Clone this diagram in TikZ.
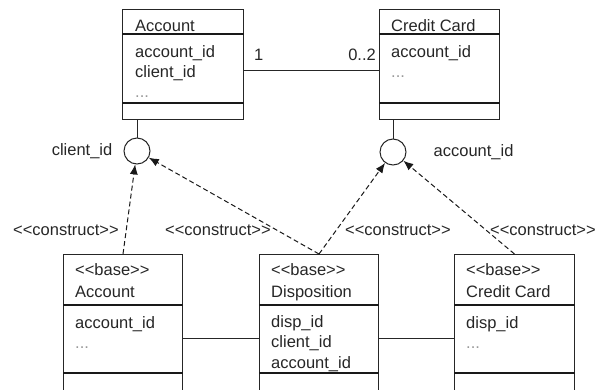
\documentclass[tikz,border=0pt]{standalone}
\usepackage{fontspec}
\setmainfont{Liberation Sans}[Ligatures=TeXOff]
\usetikzlibrary{arrows.meta,positioning,calc}

\tikzset{
  classbox/.style={draw=black!85, line width=1pt, inner sep=0pt, anchor=north west},
  sep/.style={line width=2pt, black!90},
  txt/.style={inner sep=0pt, anchor=base west, font=\fontsize{16.5}{20}\selectfont, text=black!85},
  dots/.style={txt, text=black!40},
  iface/.style={draw=black!85, line width=1pt, circle, minimum size=26pt, inner sep=0pt},
  construct/.style={-{Latex[length=10pt,width=8pt]}, dash pattern=on 5pt off 3pt, line width=1pt, black!90},
  link/.style={line width=1pt, black!85},
}

\begin{document}
\begin{tikzpicture}[x=1pt, y=-1pt]
  \useasboundingbox (0,0) rectangle (596,389);
  \clip (0,0) rectangle (596,389);

  % target classes
  \node[classbox, minimum width=121pt, minimum height=110pt] (acc) at (122,9) {};
  \draw[sep] ($(acc.north west)+(0,25)$) -- ($(acc.north east)+(0,25)$);
  \draw[sep] ($(acc.north west)+(0,94)$) -- ($(acc.north east)+(0,94)$);
  \node[txt] (acc-name) at ($(acc.north west)+(13,22)$) {Account};
  \node[txt] (acc-a1) at ($(acc.north west)+(13,48)$) {account\_id};
  \node[txt] (acc-a2) at ($(acc.north west)+(13,68)$) {client\_id};
  \node[dots] (acc-a3) at ($(acc.north west)+(13,88)$) {...};

  \node[classbox, minimum width=120pt, minimum height=110pt] (card) at (379,9) {};
  \draw[sep] ($(card.north west)+(0,25)$) -- ($(card.north east)+(0,25)$);
  \draw[sep] ($(card.north west)+(0,94)$) -- ($(card.north east)+(0,94)$);
  \node[txt] (card-name) at ($(card.north west)+(12,22)$) {Credit Card};
  \node[txt] (card-a1) at ($(card.north west)+(12,48)$) {account\_id};
  \node[dots] (card-a2) at ($(card.north west)+(12,68)$) {...};

  % association
  \draw[link] ($(acc.north east)+(0,61)$) -- ($(card.north west)+(0,61)$);
  \node[txt] (mult-a) at ($(acc.north east)+(10,51)$) {1};
  \node[txt, anchor=base east] (mult-b) at ($(card.north west)+(-3,51)$) {0..2};

  % provided interfaces
  \node[iface] (cid) at (137,151) {};
  \node[iface] (aid) at (393,152) {};
  \draw[link] (cid) -- (cid |- acc.south);
  \draw[link] (aid) -- (aid |- card.south);
  \node[txt, anchor=east, left=11pt of cid] (cid-lbl) {client\_id};
  \node[txt, anchor=west, right=27pt of aid] (aid-lbl) {account\_id};

  % base classes
  \node[classbox, minimum width=119pt, minimum height=160pt] (bacc) at (63,254) {};
  \node[classbox, minimum width=119pt, minimum height=160pt] (disp) at (259,254) {};
  \node[classbox, minimum width=120pt, minimum height=160pt] (bcard) at (454,254) {};
  \foreach \b in {bacc,disp,bcard} {
    \draw[sep] ($(\b.north west)+(0,51)$) -- ($(\b.north east)+(0,51)$);
    \draw[sep] ($(\b.north west)+(0,119)$) -- ($(\b.north east)+(0,119)$);
  }

  \node[txt] (bacc-st) at ($(bacc.north west)+(12,21)$) {<<base>>};
  \node[txt] (bacc-name) at ($(bacc.north west)+(12,43)$) {Account};
  \node[txt] (bacc-a1) at ($(bacc.north west)+(12,74)$) {account\_id};
  \node[dots] (bacc-a2) at ($(bacc.north west)+(12,94)$) {...};

  \node[txt] (disp-st) at ($(disp.north west)+(12,21)$) {<<base>>};
  \node[txt] (disp-name) at ($(disp.north west)+(12,43)$) {Disposition};
  \node[txt] (disp-a1) at ($(disp.north west)+(12,73)$) {disp\_id};
  \node[txt] (disp-a2) at ($(disp.north west)+(12,93)$) {client\_id};
  \node[txt] (disp-a3) at ($(disp.north west)+(12,114)$) {account\_id};

  \node[txt] (bcard-st) at ($(bcard.north west)+(12,21)$) {<<base>>};
  \node[txt] (bcard-name) at ($(bcard.north west)+(12,43)$) {Credit Card};
  \node[txt] (bcard-a1) at ($(bcard.north west)+(12,74)$) {disp\_id};
  \node[dots] (bcard-a2) at ($(bcard.north west)+(12,94)$) {...};

  \draw[link] ($(bacc.north east)+(0,84)$) -- ($(disp.north west)+(0,84)$);
  \draw[link] ($(disp.north east)+(0,84)$) -- ($(bcard.north west)+(0,84)$);

  % construct dependencies
  \draw[construct] (bacc.north) -- (cid);
  \draw[construct] (disp.north) -- (cid);
  \draw[construct] (disp.north) -- (aid);
  \draw[construct] (bcard.north) -- (aid);
  \node[txt] (c1) at (13,235) {<<construct>>};
  \node[txt] (c2) at (165,235) {<<construct>>};
  \node[txt] (c3) at (345,235) {<<construct>>};
  \node[txt] (c4) at (490,235) {<<construct>>};
\end{tikzpicture}
\end{document}
